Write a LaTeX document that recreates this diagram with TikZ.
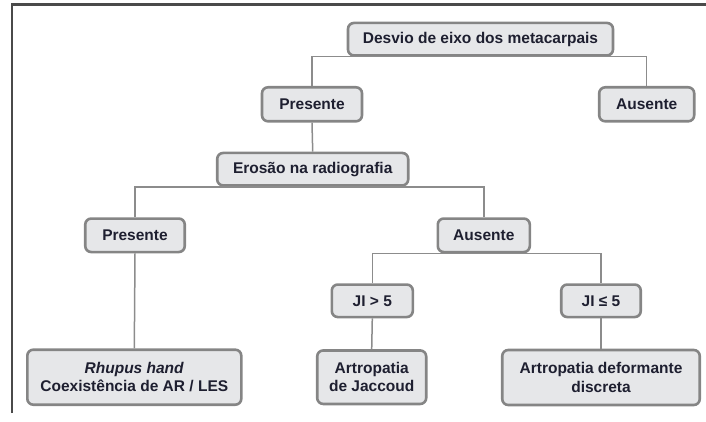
\documentclass[tikz,border=0pt]{standalone}
\usepackage{fontspec}
\setmainfont{Liberation Sans}
\definecolor{boxfill}{HTML}{E6E7E9}
\definecolor{boxline}{HTML}{858585}
\definecolor{conn}{HTML}{8C8C8C}
\definecolor{frame}{HTML}{4A4A4A}
\definecolor{txt}{HTML}{1E1F30}
\tikzset{
  nbox/.style={draw=boxline, line width=2.6pt, fill=boxfill, rounded corners=6pt,
    inner sep=0pt, align=center, text=txt,
    font=\fontsize{15.5}{18.5}\selectfont\bfseries},
  conline/.style={draw=conn, line width=1.5pt},
}
\begin{document}
\begin{tikzpicture}[x=1pt,y=-1pt]
\useasboundingbox (0,0) rectangle (706,422);
% frame
\draw[frame, line width=2.2pt] (12,413) -- (12,4.5) -- (706,4.5);
% nodes
\node[nbox, minimum width=265pt, minimum height=32.5pt] (D)  at (480.5,39.2) {Desvio de eixo dos metacarpais};
\node[nbox, minimum width=100pt, minimum height=34pt] (P1) at (312,104.3) {Presente};
\node[nbox, minimum width=95pt, minimum height=34pt] (A1) at (646.7,104.3) {Ausente};
\node[nbox, minimum width=191pt, minimum height=32.5pt] (E)  at (312.7,169.2) {Erosão na radiografia};
\node[nbox, minimum width=99.5pt, minimum height=33.5pt] (P2) at (135,235.3) {Presente};
\node[nbox, minimum width=92pt, minimum height=33.5pt] (A2) at (483.8,235.3) {Ausente};
\node[nbox, minimum width=81pt, minimum height=32.5pt] (J1) at (372.3,300.8) {JI > 5};
\node[nbox, minimum width=79.5pt, minimum height=32.5pt] (J2) at (601,300.8) {JI ≤ 5};
\node[nbox, minimum width=214pt, minimum height=55pt] (R)  at (134.3,377.2) {\textit{Rhupus hand}\\Coexistência de AR / LES};
\node[nbox, minimum width=109pt, minimum height=53.5pt] (JA) at (371.7,377.2) {Artropatia\\de Jaccoud};
\node[nbox, minimum width=197.5pt, minimum height=55pt] (DF) at (601,377.5) {Artropatia deformante\\discreta};
% connectors
\begin{scope}[on background layer/.try]
\end{scope}
\draw[conline] (P1.north) -- (P1.north |- D.south) -- (A1.north |- D.south) -- (A1.north);
\draw[conline] (P1.south) -- (E.north);
\draw[conline] (P2.north) -- (P2.north |- E.south) -- (A2.north |- E.south) -- (A2.north);
\draw[conline] (J1.north) -- (J1.north |- A2.south) -- (J2.north |- A2.south) -- (J2.north);
\draw[conline] (P2.south) -- (R.north);
\draw[conline] (J1.south) -- (JA.north);
\draw[conline] (J2.south) -- (DF.north);
\end{tikzpicture}
\end{document}
